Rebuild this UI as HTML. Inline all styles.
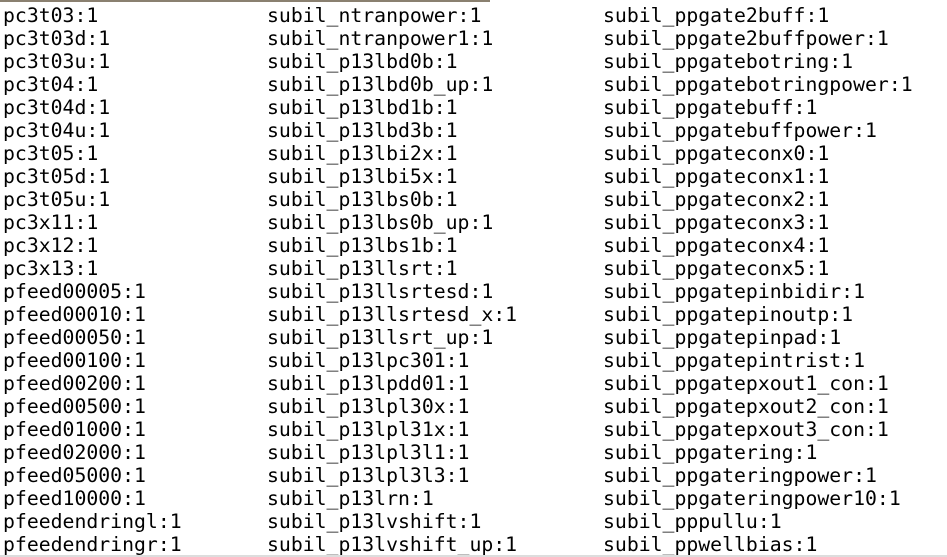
<!DOCTYPE html>
<html><head><style>
html,body{margin:0;padding:0;background:#fff;width:947px;height:557px;overflow:hidden;position:relative}
.c{position:absolute;top:4px;font-family:"DejaVu Sans Mono","Liberation Mono",monospace;font-size:19.8px;line-height:23px;color:#000;white-space:pre}
.top{position:absolute;left:0;top:0;width:490px;height:2px;background:#8a8070}
.bot{position:absolute;left:0;bottom:0;width:947px;height:2px;background:#ddd}
</style></head><body>
<div class="top"></div>
<div class="c" style="left:3px">pc3t03:1
pc3t03d:1
pc3t03u:1
pc3t04:1
pc3t04d:1
pc3t04u:1
pc3t05:1
pc3t05d:1
pc3t05u:1
pc3x11:1
pc3x12:1
pc3x13:1
pfeed00005:1
pfeed00010:1
pfeed00050:1
pfeed00100:1
pfeed00200:1
pfeed00500:1
pfeed01000:1
pfeed02000:1
pfeed05000:1
pfeed10000:1
pfeedendringl:1
pfeedendringr:1</div>
<div class="c" style="left:267px">subil_ntranpower:1
subil_ntranpower1:1
subil_p13lbd0b:1
subil_p13lbd0b_up:1
subil_p13lbd1b:1
subil_p13lbd3b:1
subil_p13lbi2x:1
subil_p13lbi5x:1
subil_p13lbs0b:1
subil_p13lbs0b_up:1
subil_p13lbs1b:1
subil_p13llsrt:1
subil_p13llsrtesd:1
subil_p13llsrtesd_x:1
subil_p13llsrt_up:1
subil_p13lpc301:1
subil_p13lpdd01:1
subil_p13lpl30x:1
subil_p13lpl31x:1
subil_p13lpl3l1:1
subil_p13lpl3l3:1
subil_p13lrn:1
subil_p13lvshift:1
subil_p13lvshift_up:1</div>
<div class="c" style="left:603px">subil_ppgate2buff:1
subil_ppgate2buffpower:1
subil_ppgatebotring:1
subil_ppgatebotringpower:1
subil_ppgatebuff:1
subil_ppgatebuffpower:1
subil_ppgateconx0:1
subil_ppgateconx1:1
subil_ppgateconx2:1
subil_ppgateconx3:1
subil_ppgateconx4:1
subil_ppgateconx5:1
subil_ppgatepinbidir:1
subil_ppgatepinoutp:1
subil_ppgatepinpad:1
subil_ppgatepintrist:1
subil_ppgatepxout1_con:1
subil_ppgatepxout2_con:1
subil_ppgatepxout3_con:1
subil_ppgatering:1
subil_ppgateringpower:1
subil_ppgateringpower10:1
subil_pppullu:1
subil_ppwellbias:1</div>
<div class="bot"></div>
</body></html>
